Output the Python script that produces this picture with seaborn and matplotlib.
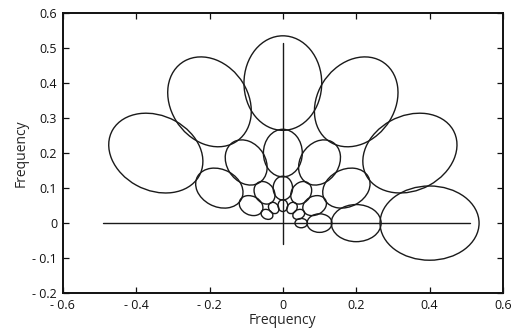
import numpy as np
import pandas as pd
import matplotlib
matplotlib.use("Agg")
import matplotlib.pyplot as plt
from matplotlib.patches import Ellipse
import seaborn as sns

# ---- data ----
center_freqs = [0.4, 0.2, 0.1, 0.05]            # radial centre frequency per scale
orientations_deg = [0, 30, 60, 90, 120, 150]      # filter orientations
radial_halfwidth = [0.135, 0.068, 0.034, 0.017]   # half-peak half-width along the radius
tangential_halfwidth = [0.106, 0.053, 0.0265, 0.0133]  # half-peak half-width across the radius

hline_x = [-0.49, 0.51]   # horizontal axis line (y = 0)
vline_y = [-0.06, 0.515]  # vertical axis line (x = 0)

xticks = [-0.6, -0.4, -0.2, 0, 0.2, 0.4, 0.6]
xticklabels = ["- 0.6", "- 0.4", "- 0.2", "0", "0.2", "0.4", "0.6"]
yticks = [-0.2, -0.1, 0, 0.1, 0.2, 0.3, 0.4, 0.5, 0.6]
yticklabels = ["- 0.2", "- 0.1", "0", "0.1", "0.2", "0.3", "0.4", "0.5", "0.6"]

sns.set_style("ticks")
plt.rcParams["font.family"] = ["Open Sans", "DejaVu Sans"]

fig = plt.figure(figsize=(5.19, 3.35), dpi=100)
ax = fig.add_axes([0.121, 0.125, 0.848, 0.836])

line_color = "#1a1a1a"

# axis lines through the origin
df_h = pd.DataFrame({"x": hline_x, "y": [0, 0]})
df_v = pd.DataFrame({"x": [0, 0], "y": vline_y})
sns.lineplot(data=df_h, x="x", y="y", ax=ax, color=line_color, lw=1.0, sort=False,
             estimator=None, errorbar=None)
sns.lineplot(data=df_v, x="x", y="y", ax=ax, color=line_color, lw=1.0, sort=False,
             estimator=None, errorbar=None)

# half-peak contours of the filter bank
for f, ra, ta in zip(center_freqs, radial_halfwidth, tangential_halfwidth):
    for th in orientations_deg:
        t = np.deg2rad(th)
        e = Ellipse((f * np.cos(t), f * np.sin(t)), width=2 * ra, height=2 * ta,
                    angle=th, fill=False, edgecolor=line_color, lw=1.0)
        ax.add_patch(e)

ax.set_xlim(-0.6, 0.6)
ax.set_ylim(-0.2, 0.6)
ax.set_xticks(xticks)
ax.set_xticklabels(xticklabels)
ax.set_yticks(yticks)
ax.set_yticklabels(yticklabels)
ax.tick_params(direction="in", length=4, width=0.9, top=True, right=True,
               labelsize=9, colors="#111111")
ax.tick_params(axis="x", pad=4)
ax.tick_params(axis="y", pad=4)
for s in ax.spines.values():
    s.set_visible(True)
    s.set_linewidth(1.4)
    s.set_color("#111111")

ax.set_xlabel("Frequency", fontsize=10, labelpad=1)
ax.set_ylabel("Frequency", fontsize=10, labelpad=3)

fig.savefig("out.png", dpi=100)
